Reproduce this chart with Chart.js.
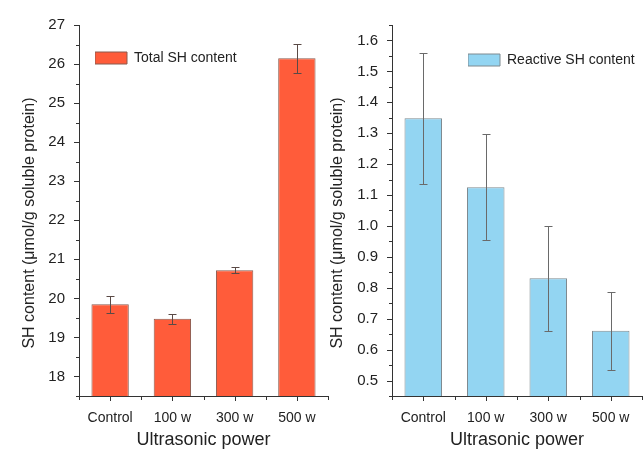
<!DOCTYPE html>
<html>
<head>
<meta charset="utf-8">
<script src="https://cdn.jsdelivr.net/npm/chart.js@4"></script>
<style>
  body { margin: 0; background: #fff; }
  #wrap { position: relative; width: 643px; height: 451px; }
  #leftBox { position: absolute; left: 0; top: 0; width: 330px; height: 451px; }
  #rightBox { position: absolute; left: 330px; top: 0; width: 313px; height: 451px; }
</style>
</head>
<body>
<div id="wrap">
  <div id="leftBox"><canvas id="totalChart"></canvas></div>
  <div id="rightBox"><canvas id="reactiveChart"></canvas></div>
</div>
<script>
// datos
const categorias = ['Control', '100 w', '300 w', '500 w'];
const totalSH = [19.85, 19.48, 20.72, 26.15];
const totalSHErr = [0.22, 0.13, 0.08, 0.37];
const reactiveSH = [1.348, 1.125, 0.831, 0.661];
const reactiveSHErr = [0.212, 0.171, 0.170, 0.127];
const ticksTotal = [18, 19, 20, 21, 22, 23, 24, 25, 26, 27];
const ticksReactive = [0.5, 0.6, 0.7, 0.8, 0.9, 1.0, 1.1, 1.2, 1.3, 1.4, 1.5, 1.6];

const fuente = "'Liberation Sans', Arial, sans-serif";
const tituloY = 'SH content (\u03bcmol/g soluble protein)';

// dibuja barras de error, marcas de los ejes y titulo del eje Y
function pluginExtras(errores, colorError, paso, mitad, tituloX) {
  return {
    id: 'extras',
    afterDatasetsDraw(chart) {
      const ctx = chart.ctx;
      const x = chart.scales.x, y = chart.scales.y;
      const datos = chart.data.datasets[0].data;
      ctx.save();
      ctx.strokeStyle = colorError;
      ctx.lineWidth = 1;
      datos.forEach((v, i) => {
        const px = Math.round(x.getPixelForValue(i)) + 0.5;
        const arriba = Math.round(y.getPixelForValue(v + errores[i])) + 0.5;
        const abajo = Math.round(y.getPixelForValue(v - errores[i])) + 0.5;
        ctx.beginPath();
        ctx.moveTo(px, arriba); ctx.lineTo(px, abajo);
        ctx.moveTo(px - 4, arriba); ctx.lineTo(px + 4, arriba);
        ctx.moveTo(px - 4, abajo); ctx.lineTo(px + 4, abajo);
        ctx.stroke();
      });
      ctx.restore();
    },
    afterDraw(chart) {
      const ctx = chart.ctx;
      const x = chart.scales.x, y = chart.scales.y;
      const area = chart.chartArea;
      ctx.save();
      ctx.strokeStyle = '#333';
      ctx.lineWidth = 1;
      ctx.beginPath();
      // marcas del eje Y (mayores y menores)
      const n = Math.round((y.max - y.min) / mitad);
      for (let k = 0; k <= n; k++) {
        const v = y.min + k * mitad;
        const py = Math.round(y.getPixelForValue(v)) + 0.5;
        const esMayor = Math.abs(v / paso - Math.round(v / paso)) < 1e-6;
        const largo = esMayor ? 5 : 3;
        ctx.moveTo(area.left - largo, py); ctx.lineTo(area.left, py);
      }
      // marcas del eje X
      const ancho = (area.right - area.left) / categorias.length;
      for (let i = 0; i <= categorias.length; i++) {
        const bx = Math.round(area.left + i * ancho) + 0.5;
        ctx.moveTo(bx, area.bottom); ctx.lineTo(bx, area.bottom + 4);
      }
      categorias.forEach((c, i) => {
        const px = Math.round(x.getPixelForValue(i)) + 0.5;
        ctx.moveTo(px, area.bottom); ctx.lineTo(px, area.bottom + 5);
      });
      ctx.stroke();
      // titulo del eje Y
      ctx.fillStyle = '#222';
      ctx.font = '16px ' + fuente;
      ctx.textAlign = 'center';
      ctx.textBaseline = 'middle';
      ctx.translate(tituloX, 223);
      ctx.rotate(-Math.PI / 2);
      ctx.fillText(tituloY, 0, 0);
      ctx.restore();
    }
  };
}

function opciones(min, max, marcas, decimales, anchoY, relleno) {
  return {
    responsive: true,
    maintainAspectRatio: false,
    animation: false,
    layout: { padding: relleno },
    plugins: {
      legend: {
        display: true,
        position: 'chartArea',
        align: 'start',
        labels: {
          boxWidth: 32,
          boxHeight: 12,
          color: '#222',
          font: { family: fuente, size: 14 },
          padding: 0
        }
      },
      tooltip: { enabled: false }
    },
    scales: {
      x: {
        grid: { display: false },
        border: { display: true, color: '#333', width: 1 },
        ticks: { color: '#222', font: { family: fuente, size: 14 }, padding: 6 },
        title: {
          display: true, text: 'Ultrasonic power', color: '#222',
          font: { family: fuente, size: 18 }, padding: { top: 9, bottom: 0 }
        },
        afterFit(scale) { scale.height = 55; }
      },
      y: {
        min: min,
        max: max,
        grid: { display: false },
        border: { display: true, color: '#333', width: 1 },
        ticks: {
          color: '#222',
          font: { family: fuente, size: 15 },
          padding: 6,
          callback: (v) => Number(v).toFixed(decimales)
        },
        afterBuildTicks(scale) {
          scale.ticks = marcas.map(v => ({ value: v }));
        },
        afterFit(scale) { scale.width = anchoY; }
      }
    }
  };
}

function crearGraficos() {
  const ctx1 = document.getElementById('totalChart').getContext('2d');
  new Chart(ctx1, {
    type: 'bar',
    data: {
      labels: categorias,
      datasets: [{
        label: 'Total SH content',
        data: totalSH,
        backgroundColor: '#FF5C3A',
        borderColor: '#8a5a4e',
        borderWidth: 1,
        borderSkipped: false,
        barPercentage: 0.6,
        categoryPercentage: 1.0
      }]
    },
    options: opciones(17.5, 27, ticksTotal, 0, 79,
      { left: 0, right: 2, top: 25, bottom: 0 }),
    plugins: [pluginExtras(totalSHErr, '#5a4a46', 1, 0.5, 30), {
      id: 'legendaPos',
      afterLayout(chart) {
        const l = chart.legend;
        l.left = 95; l.top = 51;
      }
    }]
  });

  const ctx2 = document.getElementById('reactiveChart').getContext('2d');
  new Chart(ctx2, {
    type: 'bar',
    data: {
      labels: categorias,
      datasets: [{
        label: 'Reactive SH content',
        data: reactiveSH,
        backgroundColor: '#93D5F2',
        borderColor: '#7f8a90',
        borderWidth: 1,
        borderSkipped: false,
        barPercentage: 0.6,
        categoryPercentage: 1.0
      }]
    },
    options: opciones(0.45, 1.65, ticksReactive, 1, 62,
      { left: 0, right: 1, top: 25, bottom: 0 }),
    plugins: [pluginExtras(reactiveSHErr, '#6a6a6a', 0.1, 0.05, 8), {
      id: 'legendaPos',
      afterLayout(chart) {
        const l = chart.legend;
        l.left = 138; l.top = 53;
      }
    }]
  });
}

document.addEventListener('DOMContentLoaded', function () {
  crearGraficos();
});
</script>
</body>
</html>
